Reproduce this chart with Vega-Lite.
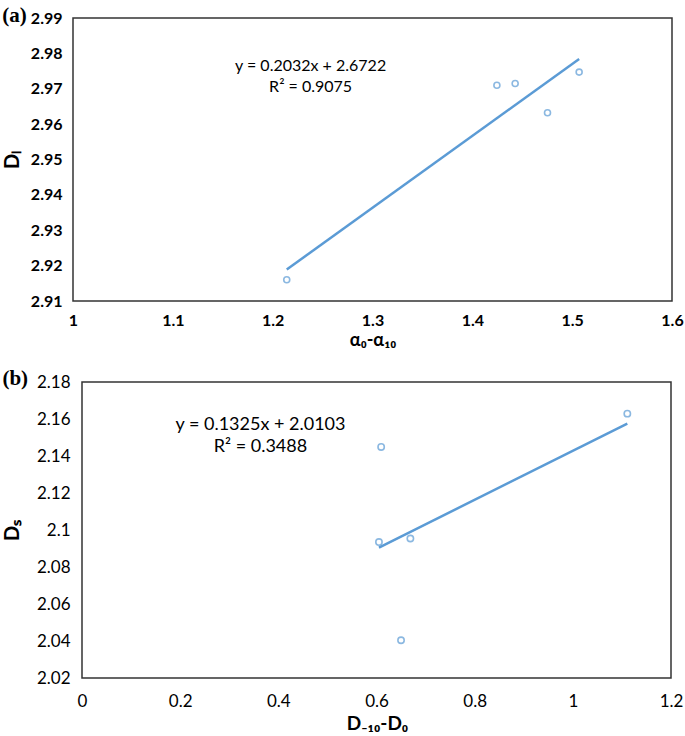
{
  "$schema": "https://vega.github.io/schema/vega-lite/v6.json",
  "padding": {"left": 1, "top": 4, "right": 0, "bottom": 0},
  "background": "white",
  "config": {
    "view": {"stroke": "#333333", "strokeWidth": 1.5},
    "font": "Lato",
    "axis": {"grid": false, "ticks": false, "domain": false, "labelFlush": false, "labelOverlap": false, "labelColor": "#000000", "titleColor": "#000000", "labelFont": "Lato", "titleFont": "Lato"}
  },
  "datasets": {
    "pointsA": [
      {"x": 1.2141, "y": 2.916},
      {"x": 1.4246, "y": 2.971},
      {"x": 1.4429, "y": 2.9715},
      {"x": 1.4753, "y": 2.9632},
      {"x": 1.507, "y": 2.9747}
    ],
    "lineA": [
      {"x": 1.2141, "y": 2.9189},
      {"x": 1.507, "y": 2.9784}
    ],
    "textA": [
      {"x": 1.238, "y": 2.9764, "label": "y = 0.2032x + 2.6722"},
      {"x": 1.238, "y": 2.9705, "label": "R² = 0.9075"}
    ],
    "frameB": [
      {"x": 0, "x2": 1.2, "y": 2.02, "y2": 2.18}
    ],
    "pointsB": [
      {"x": 0.6095, "y": 2.1449},
      {"x": 1.111, "y": 2.1629},
      {"x": 0.605, "y": 2.0935},
      {"x": 0.669, "y": 2.0954},
      {"x": 0.65, "y": 2.0404}
    ],
    "lineB": [
      {"x": 0.605, "y": 2.0905},
      {"x": 1.111, "y": 2.1575}
    ],
    "textB": [
      {"x": 0.3636, "y": 2.157, "label": "y = 0.1325x + 2.0103"},
      {"x": 0.3636, "y": 2.1449, "label": "R² = 0.3488"}
    ]
  },
  "spacing": 18,
  "vconcat": [
    {
      "width": 599,
      "height": 283,
      "title": {"text": "(a)", "anchor": "start", "frame": "bounds", "font": "Liberation Serif", "fontSize": 21, "fontWeight": "bold", "offset": -16, "color": "#000000"},
      "layer": [
        {
          "data": {"name": "pointsA"},
          "mark": {"type": "point", "shape": "circle", "filled": false, "color": "#5B9BD5", "size": 36, "strokeWidth": 1.6},
          "encoding": {
            "x": {"field": "x", "type": "quantitative", "title": "α₀-α₁₀",
              "scale": {"domain": [1, 1.6], "nice": false, "zero": false},
              "axis": {"values": [1, 1.1, 1.2, 1.3, 1.4, 1.5, 1.6], "tickCount": 20, "format": "~g", "labelOverlap": false, "labelFontSize": 16, "labelFontWeight": "bold", "labelPadding": 11, "titleFontSize": 18, "titleFontWeight": "bold", "titlePadding": 3}},
            "y": {"field": "y", "type": "quantitative", "title": "Dₗ",
              "scale": {"domain": [2.91, 2.99], "nice": false, "zero": false},
              "axis": {"values": [2.91, 2.92, 2.93, 2.94, 2.95, 2.96, 2.97, 2.98, 2.99], "tickCount": 20, "format": "~g", "labelOverlap": false, "labelFontSize": 16, "labelFontWeight": "bold", "labelPadding": 11, "titleFontSize": 20, "titleFontWeight": "bold", "titlePadding": 8}}
          }
        },
        {
          "data": {"name": "lineA"},
          "mark": {"type": "line", "color": "#5B9BD5", "strokeWidth": 2.5},
          "encoding": {
            "x": {"field": "x", "type": "quantitative"},
            "y": {"field": "y", "type": "quantitative"}
          }
        },
        {
          "data": {"name": "textA"},
          "mark": {"type": "text", "align": "center", "baseline": "middle", "fontSize": 16, "color": "#000000"},
          "encoding": {
            "x": {"field": "x", "type": "quantitative"},
            "y": {"field": "y", "type": "quantitative"},
            "text": {"field": "label"}
          }
        }
      ]
    },
    {
      "width": 598,
      "height": 296,
      "view": {"stroke": null},
      "title": {"text": "(b)", "anchor": "start", "frame": "bounds", "font": "Liberation Serif", "fontSize": 21, "fontWeight": "bold", "offset": -16, "color": "#000000"},
      "layer": [
        {
          "data": {"name": "frameB"},
          "mark": {"type": "rect", "fill": null, "stroke": "#333333", "strokeWidth": 1.5},
          "encoding": {
            "x": {"field": "x", "type": "quantitative", "title": "D₋₁₀-D₀",
              "scale": {"domain": [0, 1.2], "nice": false, "zero": false, "range": [9, 598]},
              "axis": {"values": [0, 0.2, 0.4, 0.6, 0.8, 1, 1.2], "tickCount": 20, "format": "~g", "labelOverlap": false, "labelFontSize": 17, "labelPadding": 15, "titleFontSize": 19, "titleFontWeight": "bold", "titlePadding": 5, "titleX": 304}},
            "x2": {"field": "x2"},
            "y": {"field": "y", "type": "quantitative", "title": "Dₛ",
              "scale": {"domain": [2.02, 2.18], "nice": false, "zero": false},
              "axis": {"values": [2.02, 2.04, 2.06, 2.08, 2.1, 2.12, 2.14, 2.16, 2.18], "tickCount": 20, "format": "~g", "labelOverlap": false, "labelFontSize": 17, "labelPadding": 3, "titleFontSize": 20, "titleFontWeight": "bold", "titlePadding": 14}},
            "y2": {"field": "y2"}
          }
        },
        {
          "data": {"name": "pointsB"},
          "mark": {"type": "point", "shape": "circle", "filled": false, "color": "#5B9BD5", "size": 40, "strokeWidth": 1.6},
          "encoding": {
            "x": {"field": "x", "type": "quantitative"},
            "y": {"field": "y", "type": "quantitative"}
          }
        },
        {
          "data": {"name": "lineB"},
          "mark": {"type": "line", "color": "#5B9BD5", "strokeWidth": 2.5},
          "encoding": {
            "x": {"field": "x", "type": "quantitative"},
            "y": {"field": "y", "type": "quantitative"}
          }
        },
        {
          "data": {"name": "textB"},
          "mark": {"type": "text", "align": "center", "baseline": "middle", "fontSize": 18, "color": "#000000"},
          "encoding": {
            "x": {"field": "x", "type": "quantitative"},
            "y": {"field": "y", "type": "quantitative"},
            "text": {"field": "label"}
          }
        }
      ]
    }
  ]
}
